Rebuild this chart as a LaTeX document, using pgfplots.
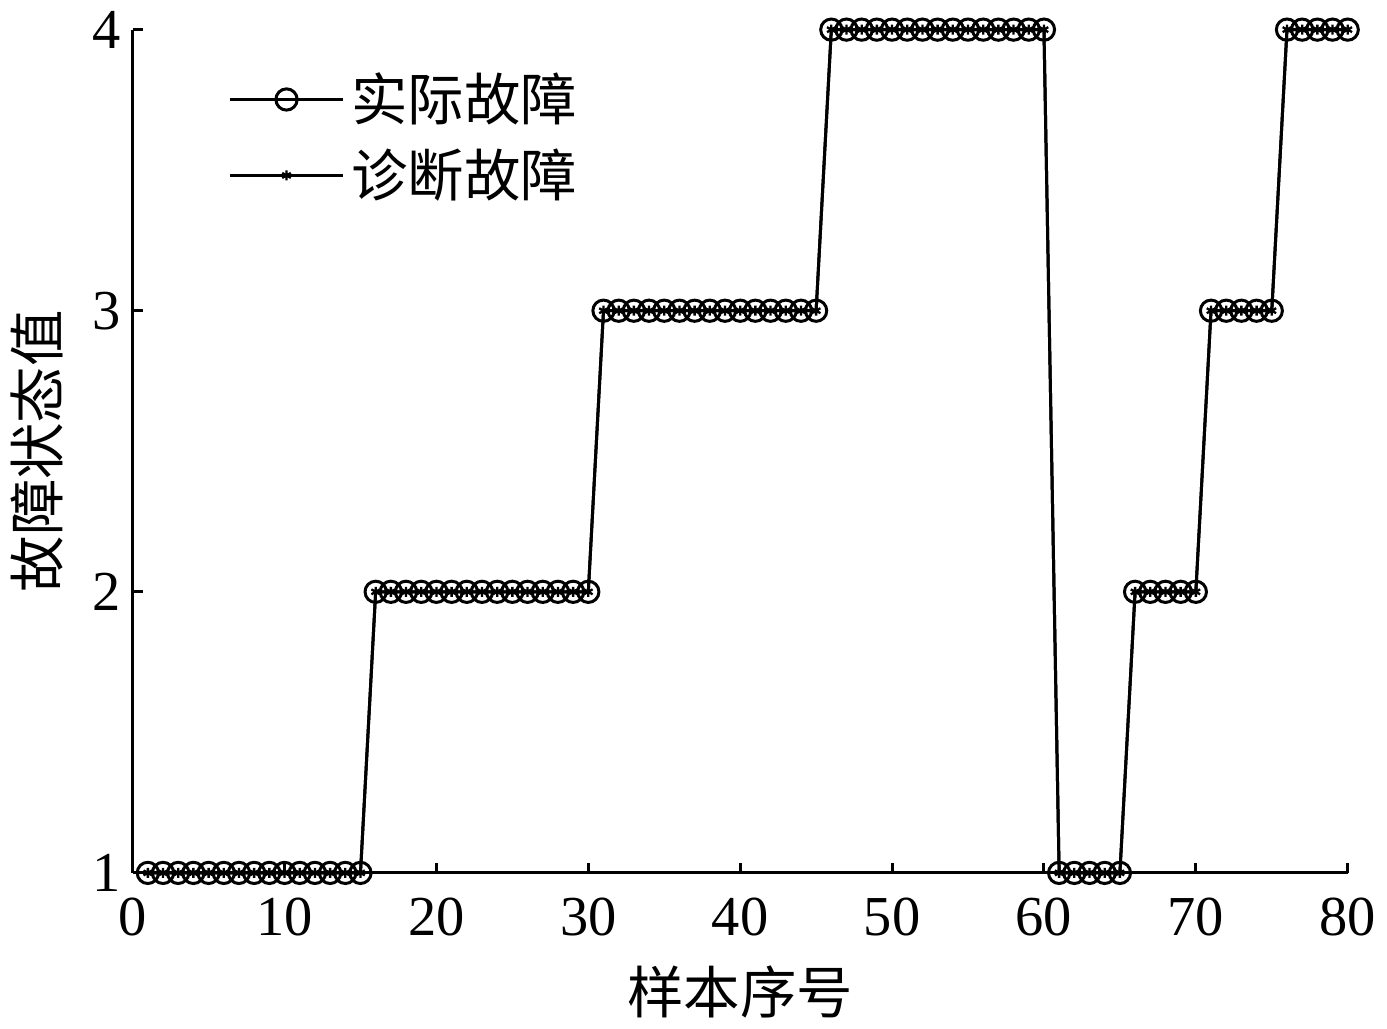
\documentclass[border=0pt]{standalone}
\usepackage{pgfplots}
\pgfplotsset{compat=1.18}
\usepackage{fontspec}
\setmainfont{Liberation Serif}
\newfontfamily\cjk{Noto Sans CJK SC}
\begin{document}
\begin{tikzpicture}
\pgfplotstableread{
x y
1 1
2 1
3 1
4 1
5 1
6 1
7 1
8 1
9 1
10 1
11 1
12 1
13 1
14 1
15 1
16 2
17 2
18 2
19 2
20 2
21 2
22 2
23 2
24 2
25 2
26 2
27 2
28 2
29 2
30 2
31 3
32 3
33 3
34 3
35 3
36 3
37 3
38 3
39 3
40 3
41 3
42 3
43 3
44 3
45 3
46 4
47 4
48 4
49 4
50 4
51 4
52 4
53 4
54 4
55 4
56 4
57 4
58 4
59 4
60 4
61 1
62 1
63 1
64 1
65 1
66 2
67 2
68 2
69 2
70 2
71 3
72 3
73 3
74 3
75 3
76 4
77 4
78 4
79 4
80 4
}\data
\begin{axis}[
  scale only axis,
  width=366pt, height=254pt,
  xmin=0, xmax=80, ymin=1, ymax=4,
  xtick={0,10,...,80}, ytick={1,2,3,4},
  axis x line=bottom, axis y line=left,
  axis line style={-, line width=0.9pt},
  tick align=inside, major tick length=3pt,
  tick style={line width=0.9pt, black},
  /pgf/number format/assume math mode=true,
  ticklabel style={font=\fontsize{17}{17}\selectfont},
  xticklabel style={yshift=-4pt},
  xlabel={\cjk 样本序号}, ylabel={\cjk 故障状态值},
  label style={font=\fontsize{17}{17}\selectfont},
  xlabel style={yshift=-2pt},
  ylabel style={yshift=2pt},
  clip=false,
  legend style={at={(0.07,0.965)}, anchor=north west, draw=none, fill=none,
    font=\fontsize{17}{19}\selectfont\cjk, row sep=3pt},
  legend cell align=left,
  legend image code/.code={\draw[#1] (0cm,0cm) -- (1.2cm,0cm); \draw[#1,mark repeat=1] plot coordinates {(0.6cm,0cm)};},
]
\addplot[black, line width=0.9pt, mark=o, mark size=3.2pt, mark options={line width=0.9pt}] table {\data};
\addlegendentry{实际故障}
\addplot[black, line width=0.9pt, mark=asterisk, mark size=1.5pt, mark options={line width=0.7pt}] table {\data};
\addlegendentry{诊断故障}
\end{axis}
\end{tikzpicture}
\end{document}
